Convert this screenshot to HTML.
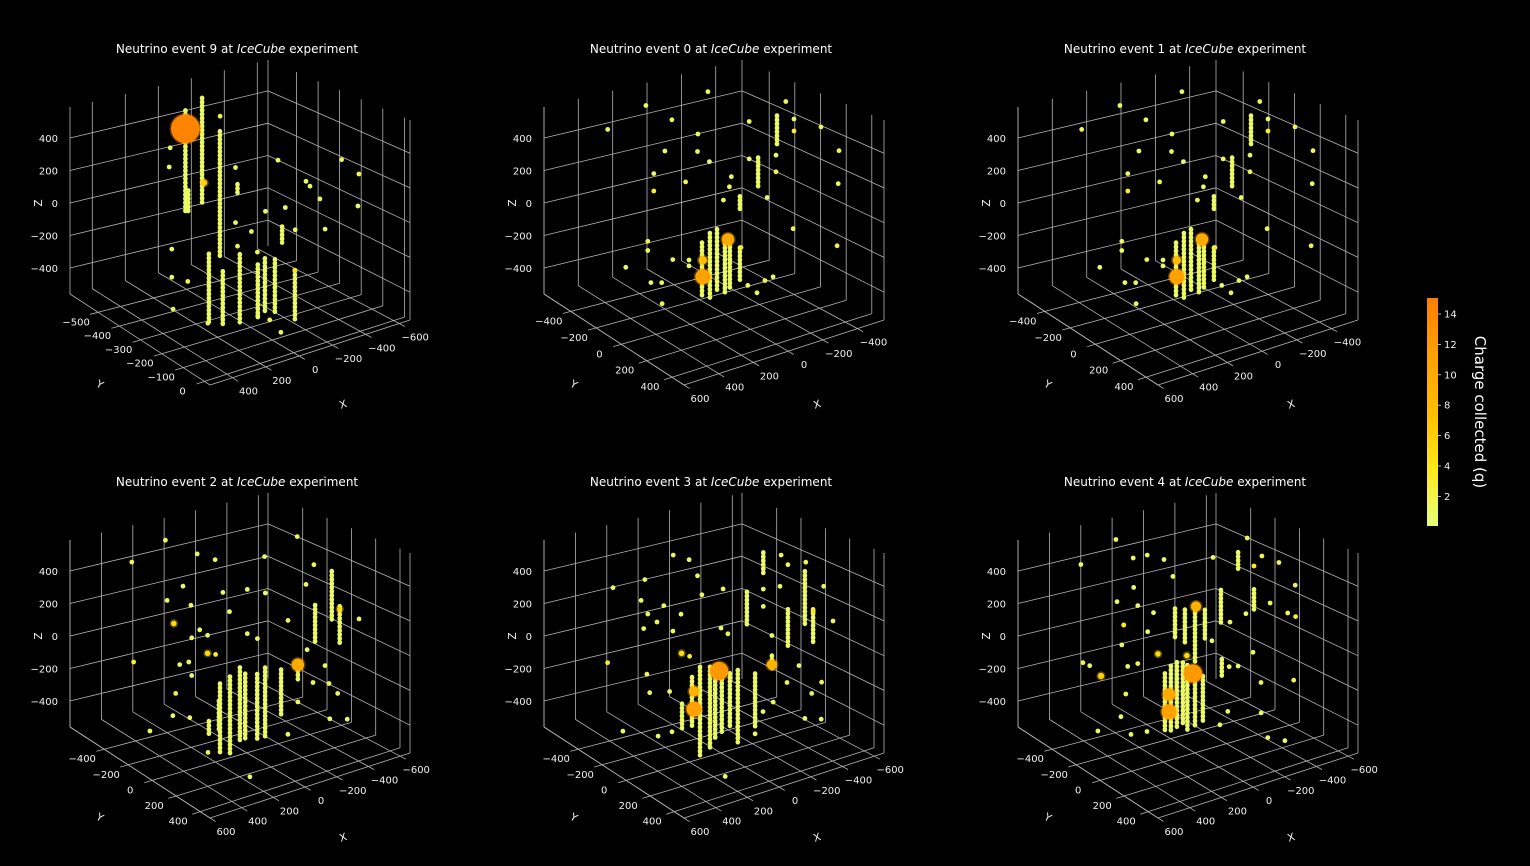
<!DOCTYPE html>
<html><head><meta charset="utf-8"><title>IceCube neutrino events</title>
<style>
html,body{margin:0;padding:0;background:#000;}
svg{display:block;font-family:"DejaVu Sans","Liberation Sans",sans-serif;}
</style></head>
<body>
<svg id="fig" width="1530" height="866" viewBox="0 0 1530 866" xmlns="http://www.w3.org/2000/svg">
<rect width="1530" height="866" fill="#000"/>
<defs>
<linearGradient id="cbgrad" x1="0" y1="1" x2="0" y2="0">
<stop offset="0" stop-color="#e4ff7a"/><stop offset="0.25" stop-color="#ffe81a"/>
<stop offset="0.5" stop-color="#ffbd00"/><stop offset="0.75" stop-color="#ffa000"/>
<stop offset="1" stop-color="#fc7f00"/></linearGradient>
</defs>
<g>
<rect x="1427" y="298" width="11" height="228" fill="url(#cbgrad)"/>
<g id="cbticks"></g>
<text transform="translate(1475,412) rotate(90)" text-anchor="middle" fill="#fff" font-size="15">Charge collected (q)</text>
</g>
</svg>
<script>
// ---- data: [x, y, zTop, zBottom] strings and [x, y, z, q] hits ----
const zTicks = [-400, -200, 0, 200, 400];
const cbTicks = [2, 4, 6, 8, 10, 12, 14];
const xTicksA = [400, 200, 0, -200, -400, -600];
const yTicksA = [0, -100, -200, -300, -400, -500];
const xTicksB = [600, 400, 200, 0, -200, -400];
const yTicksB = [-400, -200, 0, 200, 400];
const xTicksC = [600, 400, 200, 0, -200, -400, -600];
const yTicksC = [-400, -200, 0, 200, 400];

const event9Strings = [[7,-500,530,-100],[-94,-500,580,-65],[53,-303,545,-215],[373,-106,50,-347],[289,-106,-77,-402],[187,-106,-8,-405],[79,-106,-100,-420],[36,-106,-77,-391],[-24,-106,-100,-410],[-144,-106,-203,-506],[-53,-303,200,130],[-322,-303,-127,-223],[-10,-500,39,-99]];
const event9Points = [[-297,-303,275,1],[-425,-106,361,1.5],[-529,-106,246,1.5],[-466,-303,102,1],[-490,-303,66,1],[-550,-303,-26,1.5],[-523,-106,61,1],[-581,-303,-215,1.5],[-401,-303,-169,1.5],[-341,-303,-19,1],[-221,-303,-8,1],[-137,-303,-105,1.5],[-41,-303,303,1.5],[-41,-303,-25,1],[-53,-303,-169,1],[-173,-303,-238,1],[-203,-500,441,1.5],[343,-303,-76,1],[343,-303,-243,1],[247,-303,-295,1.5],[505,-171,-284,1.5],[379,-106,-353,1.5],[7,-106,-445,1.5],[-60,-106,-537,1.5],[79,-106,-399,1],[105,-500,211,1],[99,-500,326,1],[-144,-106,-200,4],[-106,-500,61,6],[7,-500,418,14.5]];

const event0Strings = [[90,-59,-132,-455],[44,-59,-88,-485],[3,-59,-77,-456],[-43,-59,-153,-470],[-72,-59,-157,-461],[-130,-59,-226,-417],[-235,-59,280,90],[-345,-59,499,326],[-130,-59,80,4]];
const event0Points = [[170,-391,580,1],[-190,-391,568,1],[392,-391,494,1.5],[19,-391,453,1],[-132,-391,326,1],[305,-59,476,1],[116,-59,418,1.5],[47,-59,338,1],[369,-59,360,1],[185,-59,257,1.5],[369,-59,256,3],[-80,-59,211,1],[-69,-59,154,1],[-34,-59,85,1.5],[-184,-59,510,1.5],[-184,-59,287,1],[-288,-59,27,1],[-396,-59,568,1.5],[-443,-59,450,1],[-443,-59,378,3],[-353,274,543,1.5],[-457,274,372,1.5],[-339,-59,264,1],[-339,-59,165,1.5],[-452,274,181,1],[-438,-59,-203,1.5],[-446,274,-180,2],[404,-59,-33,1.5],[404,-59,-88,1],[531,-59,-151,1],[259,-59,-184,1.5],[323,-59,-303,1.5],[386,-59,-284,1],[565,274,-203,1.5],[-29,274,-253,1.5],[17,274,-310,1.5],[70,274,-250,1],[-322,-59,-456,1],[165,-59,-214,1],[165,-59,-249,1],[-136,-59,-227,3],[85,-59,-238,8],[-61,-59,-157,10],[85,-59,-337,11]];

const event1Strings = event0Strings.map(s => s.slice());
const event1Points = event0Points.map(p => p.slice());

const event2Strings = [[360,249,50,-353],[297,249,73,-387],[234,249,108,-330],[201,249,62,-318],[125,249,39,-341],[75,249,62,-353],[-295,-102,-186,-462],[-402,-102,-173,-272],[-511,-102,142,-81],[-347,249,505,223],[-397,249,286,73],[430,249,-149,-226],[367,249,-48,-214]];
const event2Points = [[385,-452,499,1.5],[171,-452,580,1.5],[-31,-452,447,1.5],[-145,-452,384,1.5],[327,-102,476,1],[74,-102,372,1],[428,-102,418,1],[277,-102,349,1.5],[32,-102,246,1],[221,-102,188,1],[171,-102,142,1.5],[272,-102,154,1],[-81,-102,85,1.5],[-145,-102,39,1],[-460,-452,326,1],[-195,-102,297,1],[-81,-102,349,1],[-397,-102,580,1.5],[-503,-102,384,1.5],[-453,-102,280,1],[-339,-102,96,1.5],[-460,-102,-111,1],[-304,249,-34,1.5],[-228,249,-111,1.5],[-329,249,-146,1.5],[-384,249,-219,1.5],[-519,249,177,1.5],[-334,249,-353,1],[-444,249,-387,1],[373,-102,-150,3],[391,-102,-278,1],[537,-102,-330,1],[284,-102,-318,1],[436,249,-330,1.5],[171,249,-548,1],[-402,-102,-407,1],[-69,249,-368,1],[348,-102,15,1],[290,-102,15,1.5],[272,-102,-70,1],[120,-102,15,3],[373,-452,-111,3],[-397,249,269,5],[385,-102,269,5],[171,-102,35,5],[-402,-102,-185,10]];

const event3Strings = [[322,249,136,-379],[259,249,119,-361],[226,249,73,-310],[184,249,96,-284],[133,249,45,-278],[83,249,50,-371],[-26,249,-2,-325],[-243,-102,292,90],[-347,-102,499,361],[-503,-102,119,-100],[-341,249,506,182],[-393,249,269,73],[-402,-102,-131,-215],[436,249,-46,-192],[373,249,91,-208]];
const event3Points = [[339,-452,332,1],[136,-452,332,1.5],[-44,-452,437,1.5],[-145,-452,384,1],[70,-102,470,1],[428,-102,418,1],[284,-102,349,1],[385,-102,326,1.5],[327,-102,263,1.5],[411,-102,246,1],[226,-102,182,1],[175,-102,269,1],[-92,-102,349,1],[42,-102,349,1],[-79,-102,119,1],[-123,-102,73,1.5],[-347,-102,280,1],[-347,-102,177,1],[-460,-102,453,1.5],[-503,-102,384,1.5],[-347,249,557,1.5],[-460,249,384,1.5],[-519,249,165,1.5],[-453,-102,269,1],[-402,-102,-11,1],[-304,249,-34,1],[-228,249,-111,1.5],[-447,249,-172,1.5],[-384,249,-219,1.5],[-341,249,-353,1],[-444,249,-387,1],[391,-102,-31,1.5],[373,-102,-146,1.5],[543,-102,-330,1],[587,249,-192,1],[499,249,-192,1],[163,249,-548,1],[-26,249,-353,1],[-76,249,-238,1],[-410,-102,-410,1],[247,-102,-172,1],[120,-102,4,3],[373,-452,-115,3],[-393,249,257,4],[171,-102,35,5],[360,249,4,9],[-402,-102,-185,9],[360,249,-100,11],[201,249,78,12]];

const event4Strings = [[112,-102,-100,-437],[74,-102,-65,-464],[36,-102,-54,-456],[-2,-102,-65,-445],[-31,-102,-88,-475],[-79,-102,-146,-463],[-129,-102,-180,-459],[48,-102,269,85],[-15,-102,246,50],[-79,-102,257,-88],[-142,-102,211,39],[-243,-102,303,108],[-352,-102,499,384],[-453,-102,251,131],[-249,-102,-111,-209]];
const event4Points = [[378,-452,483,1],[155,-452,580,1],[45,-452,441,1],[-44,-452,437,1],[-151,-452,384,1],[61,-102,464,1],[310,-102,464,1],[416,-102,407,1],[284,-102,349,1],[184,-102,280,1],[221,-102,177,1],[385,-102,142,1],[365,-452,-117,1.5],[322,-452,-146,1],[348,-102,4,1],[284,-102,4,1.5],[-193,-102,510,1],[-410,-102,568,1.5],[-503,-102,436,1.5],[-341,249,557,1.5],[-555,-102,142,1.5],[-397,249,246,1.5],[-444,249,395,1.5],[-402,-102,119,1],[-301,-102,96,1],[-186,-102,15,1],[-228,249,-111,1.5],[-435,249,-157,1.5],[-296,-102,-169,1.5],[-352,-102,-180,1],[-447,-102,-123,1],[360,-102,-157,1.5],[391,-102,-284,1],[537,-102,-330,1],[594,249,-180,1],[493,249,-192,1],[32,249,-284,1],[-18,249,-220,1],[-498,-102,-498,1],[-271,249,-445,1],[-379,249,-494,1],[-447,249,211,3],[-453,-102,390,3],[373,-102,257,4],[-27,-102,-31,5],[156,-102,27,5],[250,-452,-226,6],[-85,-102,246,9],[86,-102,-233,10],[86,-102,-336,11],[-66,-102,-148,12]];

// ---- rendering ----
const NS = "http://www.w3.org/2000/svg";
const svg = document.getElementById('fig');
const Q_MIN = 0.05, Q_MAX = 15.05;
const cmapStops = [[0,[228,255,122]],[0.25,[255,232,26]],[0.5,[255,189,0]],[0.75,[255,160,0]],[1,[252,127,0]]];
function qColor(q){
  let t = Math.max(0, Math.min(1, (q - Q_MIN) / (Q_MAX - Q_MIN)));
  for (let i = 1; i < cmapStops.length; i++) {
    if (t <= cmapStops[i][0]) {
      const [t0, c0] = cmapStops[i-1], [t1, c1] = cmapStops[i];
      const f = (t - t0) / (t1 - t0);
      return 'rgb(' + c0.map((v, k) => Math.round(v + (c1[k] - v) * f)).join(',') + ')';
    }
  }
  return 'rgb(252,127,0)';
}
function qRadius(q){ return Math.max(2.4, 0.004*q*q*q + 2.2); }
function mk(tag, attrs, parent){
  const e = document.createElementNS(NS, tag);
  for (const k in attrs) e.setAttribute(k, attrs[k]);
  (parent || svg).appendChild(e);
  return e;
}
const CF=[210,385], CR=[410,320], CL=[70,294], CB=[268,246];
const HF=200, HR=200, HL=187, HB=186;
function proj(a, b, c){
  const w0=(1-a)*(1-b), w1=a*(1-b), w2=(1-a)*b, w3=a*b;
  const X = CF[0]*w0 + CR[0]*w1 + CL[0]*w2 + CB[0]*w3;
  const Yf = CF[1]*w0 + CR[1]*w1 + CL[1]*w2 + CB[1]*w3;
  const H = HF*w0 + HR*w1 + HL*w2 + HB*w3;
  return [X, Yf - c*H];
}
const zRange = [-560, 591];

const panels = [
  {num:9, col:0, row:0, xr:[-665,535], yr:[-632,26], xt:xTicksA, yt:yTicksA, s:event9Strings, p:event9Points},
  {num:0, col:1, row:0, xr:[-553,600], yr:[-612,495], xt:xTicksB, yt:yTicksB, s:event0Strings, p:event0Points},
  {num:1, col:2, row:0, xr:[-553,600], yr:[-612,495], xt:xTicksB, yt:yTicksB, s:event1Strings, p:event1Points},
  {num:2, col:0, row:1, xr:[-662,600], yr:[-685,482], xt:xTicksC, yt:yTicksC, s:event2Strings, p:event2Points},
  {num:3, col:1, row:1, xr:[-662,600], yr:[-685,482], xt:xTicksC, yt:yTicksC, s:event3Strings, p:event3Points},
  {num:4, col:2, row:1, xr:[-662,600], yr:[-685,482], xt:xTicksC, yt:yTicksC, s:event4Strings, p:event4Points}
];

const GRID = '#b4b4b4';
panels.forEach(P => {
  const g = mk('g', {transform:`translate(${P.col*474},${P.row*433})`});
  
  
  const A = x => (P.xr[1] - x) / (P.xr[1] - P.xr[0]);
  const B = y => (P.yr[1] - y) / (P.yr[1] - P.yr[0]);
  const C = z => (z - zRange[0]) / (zRange[1] - zRange[0]);
  const line = (p1, p2, name, col, w) => {
    const l = mk('line', {x1:p1[0].toFixed(1), y1:p1[1].toFixed(1), x2:p2[0].toFixed(1), y2:p2[1].toFixed(1), stroke:col||GRID, 'stroke-width':w||0.8}, g);
    
    
    return l;
  };
  const text = (x, y, s, name, anchor, size, extra) => {
    const t = mk('text', Object.assign({x:x.toFixed(1), y:y.toFixed(1), fill:'#f0f0f0', 'font-size':size||10, 'text-anchor':anchor||'middle'}, extra||{}), g);
    t.textContent = s;
    
    
    return t;
  };
  const tt = mk('text', {x:237, y:53, fill:'#fff', 'font-size':12, 'text-anchor':'middle'}, g);
  
  
  tt.innerHTML = 'Neutrino event ' + P.num + ' at <tspan font-style="italic">IceCube</tspan> experiment';
  P.xt.forEach(x => { const a = A(x);
    line(proj(a,1,0), proj(a,1,1), 'x-gridline-wall');
    line(proj(a,0,0), proj(a,1,0), 'x-gridline-floor');
    line(proj(a,0,0), proj(a,-0.04,0), 'x-tick');
    const q = proj(a,0,0); text(q[0]+16, q[1]+17, String(x).replace('-', '\u2212'), 'x-tick-label');
  });
  P.yt.forEach(y => { const b = B(y);
    line(proj(1,b,0), proj(1,b,1), 'y-gridline-wall');
    line(proj(0,b,0), proj(1,b,0), 'y-gridline-floor');
    line(proj(0,b,0), proj(-0.04,b,0), 'y-tick');
    const q = proj(0,b,0); text(q[0]-22, q[1]+13, String(y).replace('-', '\u2212'), 'y-tick-label');
  });
  zTicks.forEach(z => { const c = C(z);
    line(proj(0,1,c), proj(1,1,c), 'z-gridline-left-wall');
    line(proj(1,1,c), proj(1,0,c), 'z-gridline-right-wall');
    const q = proj(0,1,c); text(q[0]-12, q[1]+4, String(z).replace('-', '\u2212'), 'z-tick-label', 'end');
  });
  line(proj(0,1,0), proj(0,1,1), 'z-axis-line');
  line(proj(1,0,0), proj(1,0,1), 'right-edge');
  line(proj(1,1,0), proj(1,1,1), 'back-edge');
  line(proj(0,0,0), proj(1,0,0), 'x-axis-line');
  line(proj(0,0,0), proj(0,1,0), 'y-axis-line');
  text(343, 408, 'X', 'x-axis-title', 'middle', 10.5, {transform:'rotate(-18 343 404)'});
  text(100, 388, 'Y', 'y-axis-title', 'middle', 10.5, {transform:'rotate(30 100 384)'});
  text(38, 207, 'Z', 'z-axis-title', 'middle', 10.5, {transform:'rotate(-90 38 203)'});
  P.s.forEach(s => {
    const a = A(s[0]), b = B(s[1]);
    const p1 = proj(a,b,C(s[2])), p2 = proj(a,b,C(s[3]));
    const l = mk('line', {x1:p1[0].toFixed(1), y1:p1[1].toFixed(1), x2:p2[0].toFixed(1), y2:p2[1].toFixed(1), stroke:qColor(1), 'stroke-width':4.6, 'stroke-linecap':'round', 'stroke-dasharray':'0.6 3.4'}, g);
    
    
  });
  P.p.slice().sort((u,v) => u[3]-v[3]).forEach(h => {
    const q = proj(A(h[0]), B(h[1]), C(h[2]));
    const r = qRadius(h[3]);
    if (h[3] > 4) {
      const halo = mk('circle', {cx:q[0].toFixed(1), cy:q[1].toFixed(1), r:(r+1.5).toFixed(1), fill:qColor(h[3]), opacity:0.35}, g);
      
      
    }
    const c = mk('circle', {cx:q[0].toFixed(1), cy:q[1].toFixed(1), r:r.toFixed(1), fill:qColor(h[3])}, g);
    
    
  });
});
const cbg = document.getElementById('cbticks');
cbTicks.forEach(v => {
  const y = 526 - (v - Q_MIN) / (Q_MAX - Q_MIN) * 228;
  const l = mk('line', {x1:1438, y1:y.toFixed(1), x2:1441, y2:y.toFixed(1), stroke:'#ddd', 'stroke-width':0.8}, cbg);
  
  
  const t = mk('text', {x:1444, y:(y+3.5).toFixed(1), fill:'#f0f0f0', 'font-size':10}, cbg);
  t.textContent = v;
  
  
});
</script>
</body></html>
